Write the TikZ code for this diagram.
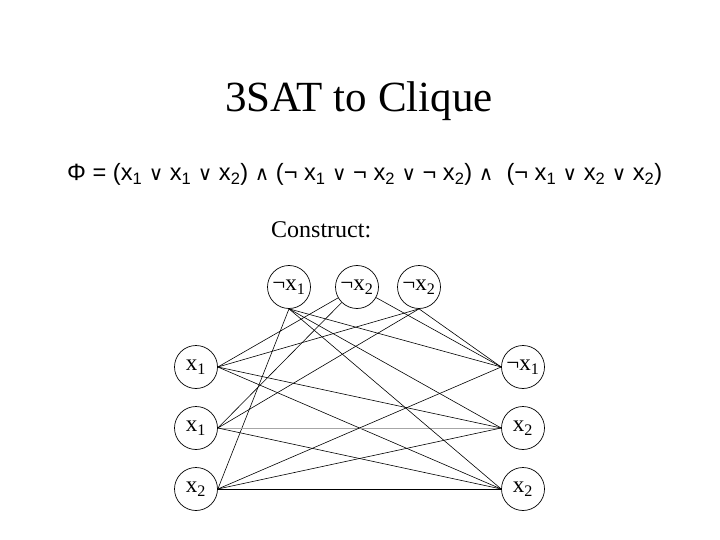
\documentclass[tikz,border=0pt]{standalone}
\usepackage{fontspec}
\usepackage{graphicx}
\setmainfont{Liberation Serif}
\newfontfamily\formfont{Liberation Sans}
\newfontfamily\symfont{DejaVu Sans}
\newcommand{\myor}{{\symfont\fontsize{21}{22}\selectfont ∨}}
\newcommand{\myand}{{\symfont\fontsize{21}{22}\selectfont ∧}}
\begin{document}
\begin{tikzpicture}[x=1pt,y=-1pt,
  vert/.style={draw,circle,line width=0.7pt,minimum size=43pt,inner sep=0pt,font=\fontsize{23}{24}\selectfont},
  edge/.style={line width=0.6pt},
  lightedge/.style={line width=0.6pt,draw=black!35}]
\useasboundingbox (0,0) rectangle (720,540);
\node[font=\fontsize{43}{46}\selectfont,anchor=base] (title) at (359,112) {3SAT to Clique};
\node[font=\formfont\fontsize{25}{26}\selectfont,anchor=base west,inner sep=0pt] (phi) at (67,181)
 {\resizebox{595pt}{!}{Φ = (x\textsubscript{1} \myor{} x\textsubscript{1} \myor{} x\textsubscript{2}) \myand{} (¬ x\textsubscript{1} \myor{} ¬ x\textsubscript{2} \myor{} ¬ x\textsubscript{2}) \myand{}\ \ (¬ x\textsubscript{1} \myor{} x\textsubscript{2} \myor{} x\textsubscript{2})}};
\node[font=\fontsize{24}{26}\selectfont,anchor=base west,inner sep=0pt] (cons) at (271,237) {Construct:};
\node[vert] (t1) at (289,287) {¬x\textsubscript{1}};
\node[vert] (t2) at (357,287) {¬x\textsubscript{2}};
\node[vert] (t3) at (419,287) {¬x\textsubscript{2}};
\node[vert] (l1) at (196,367) {x\textsubscript{1}};
\node[vert] (l2) at (196,428) {x\textsubscript{1}};
\node[vert] (l3) at (196,489) {x\textsubscript{2}};
\node[vert] (r1) at (523,367) {¬x\textsubscript{1}};
\node[vert] (r2) at (523,428) {x\textsubscript{2}};
\node[vert] (r3) at (523,489) {x\textsubscript{2}};
% C1 - C2
\draw[edge] (l1.east) -- (t2);
\draw[edge] (l1.east) -- (t3.south);
\draw[edge] (l2.east) -- (t2);
\draw[edge] (l2.east) -- (t3.south);
\draw[edge] (l3.east) -- (t1.south);
% C1 - C3
\draw[edge] (l1.east) -- (r2.west);
\draw[edge] (l1.east) -- (r3.west);
\draw[lightedge] (l2.east) -- (r2.west);
\draw[edge] (l2.east) -- (r3.west);
\draw[edge] (l3.east) -- (r1.west);
\draw[edge] (l3.east) -- (r2.west);
\draw[edge] (l3.east) -- (r3.west);
% C2 - C3
\draw[edge] (t1.south) -- (r1.west);
\draw[edge] (t1.south) -- (r2.west);
\draw[edge] (t1.south) -- (r3.west);
\draw[edge] (t2) -- (r1.west);
\draw[edge] (t3.south) -- (r1.west);
\end{tikzpicture}
\end{document}
